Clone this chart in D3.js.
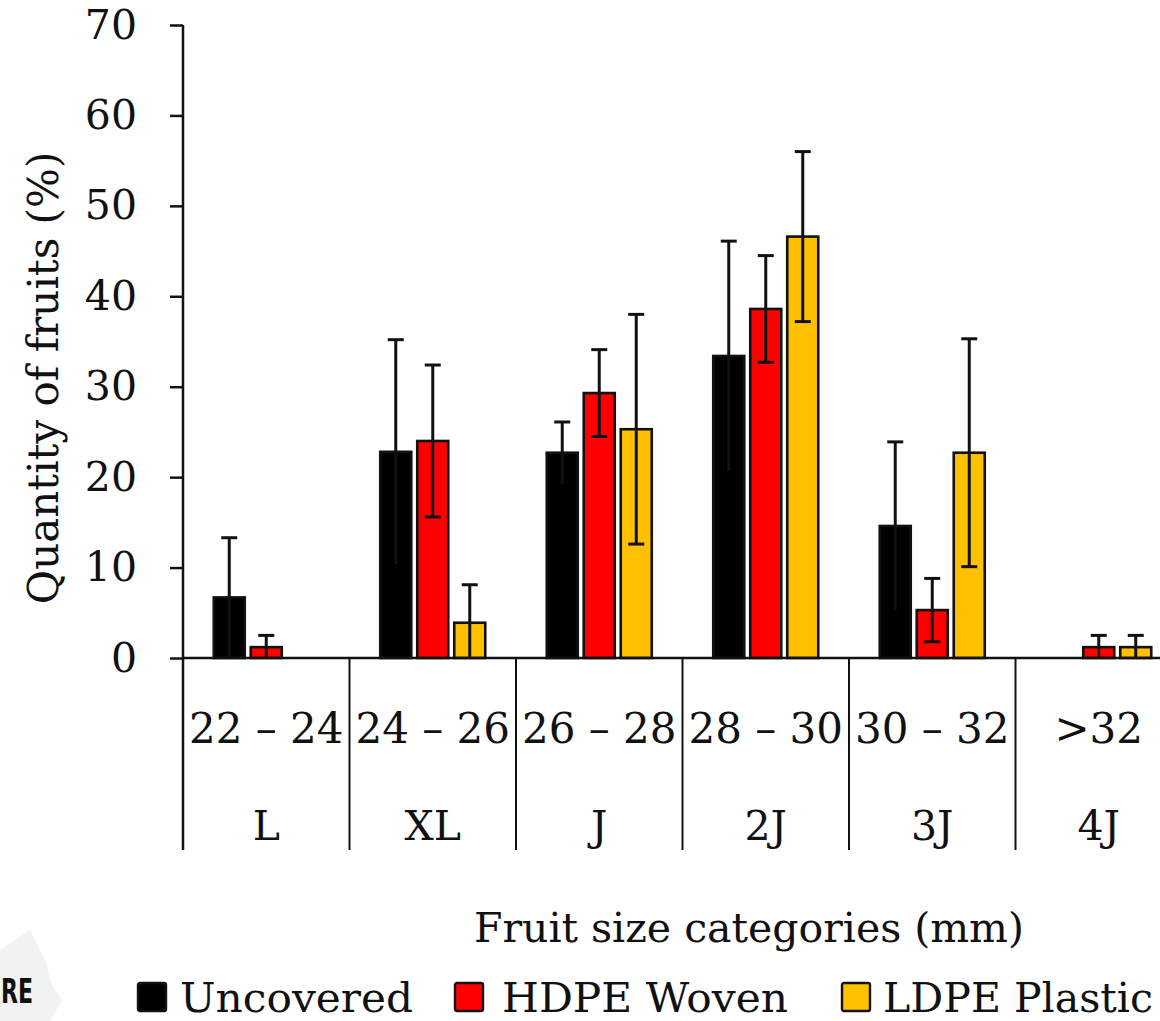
<!DOCTYPE html>
<html>
<head>
<meta charset="utf-8">
<script src="https://cdn.jsdelivr.net/npm/d3@7"></script>
<style>
  body { margin: 0; background: #fff; }
  text { font-family: "DejaVu Serif", "Liberation Serif", serif; fill: #111; }
</style>
</head>
<body>
<div class="canvas"></div>
<script>
// data
const categories = ["22 – 24", "24 – 26", "26 – 28", "28 – 30", "30 – 32", ">32"];
const sizeClasses = ["L", "XL", "J", "2J", "3J", "4J"];
const seriesNames = ["Uncovered", "HDPE Woven", "LDPE Plastic"];
const uncovered = [6.7, 22.8, 22.7, 33.4, 14.6, 0];
const uncoveredErr = [6.6, 12.4, 3.4, 12.7, 9.3, 0];
const hdpe = [1.2, 24.0, 29.3, 38.6, 5.3, 1.2];
const hdpeErr = [1.3, 8.4, 4.8, 5.9, 3.5, 1.3];
const ldpe = [0, 3.9, 25.3, 46.6, 22.7, 1.2];
const ldpeErr = [0, 4.2, 12.7, 9.4, 12.6, 1.3];
const yTicks = [0, 10, 20, 30, 40, 50, 60, 70];

const colours = ["#000000", "#ff0000", "#ffc000"];
const values = [uncovered, hdpe, ldpe];
const errors = [uncoveredErr, hdpeErr, ldpeErr];

const width = 1160, height = 1021;

const svg = d3.select('.canvas')
    .append('svg')
    .attr('width', width)
    .attr('height', height);

// scales
const x0 = d3.scaleBand()
    .domain(categories)
    .range([183, 1182]);

const x1 = d3.scaleBand()
    .domain(seriesNames)
    .range([0, x0.bandwidth()])
    .paddingInner(0.162)
    .paddingOuter(0.831);

const y = d3.scaleLinear()
    .domain([0, 70])
    .range([658, 25]);

const colour = d3.scaleOrdinal().domain(seriesNames).range(colours);

// one record per bar
const rows = [];
categories.forEach((c, i) => {
    seriesNames.forEach((s, j) => {
        rows.push({ cat: c, series: s, value: values[j][i], err: errors[j][i] });
    });
});

// y axis
const yAxis = svg.append('g')
    .attr('transform', 'translate(183,0)')
    .call(d3.axisLeft(y).tickValues(yTicks).tickSize(13).tickPadding(33));
yAxis.select('.domain').remove();
yAxis.selectAll('line').attr('stroke', '#111').attr('stroke-width', 2.5);
yAxis.selectAll('text')
    .style('font-family', '"DejaVu Serif", serif')
    .style('font-size', '41px')
    .attr('fill', '#111');

svg.append('line')
    .attr('x1', 183).attr('x2', 183)
    .attr('y1', y(70)).attr('y2', 850)
    .attr('stroke', '#111').attr('stroke-width', 2.5);

// bars
const bars = rows.filter(d => d.value > 0);

svg.append('g').selectAll('rect')
    .data(bars)
    .enter()
    .append('rect')
    .attr('x', d => x0(d.cat) + x1(d.series))
    .attr('y', d => y(d.value))
    .attr('width', x1.bandwidth())
    .attr('height', d => y(0) - y(d.value))
    .attr('fill', d => colour(d.series))
    .attr('stroke', '#111')
    .attr('stroke-width', 2.6);

// error bars
const eb = svg.append('g').selectAll('g')
    .data(bars)
    .enter()
    .append('g')
    .attr('transform', d => `translate(${x0(d.cat) + x1(d.series) + x1.bandwidth() / 2},0)`)
    .attr('stroke', '#111')
    .attr('stroke-width', 3);

eb.append('line')
    .attr('y1', d => y(d.value + d.err))
    .attr('y2', d => y(Math.max(0, d.value - d.err)));
eb.append('line')
    .attr('x1', -8).attr('x2', 8)
    .attr('y1', d => y(d.value + d.err))
    .attr('y2', d => y(d.value + d.err));
// lower caps are hidden inside the black bars
eb.filter(d => d.series !== 'Uncovered' && d.value - d.err > 0.3)
    .append('line')
    .attr('x1', -8).attr('x2', 8)
    .attr('y1', d => y(d.value - d.err))
    .attr('y2', d => y(d.value - d.err));

// x axis line
svg.append('line')
    .attr('x1', 183).attr('x2', width)
    .attr('y1', y(0)).attr('y2', y(0))
    .attr('stroke', '#111').attr('stroke-width', 2.5);

// category separators
svg.append('g').selectAll('line')
    .data(categories)
    .enter()
    .append('line')
    .attr('x1', d => x0(d) + x0.step())
    .attr('x2', d => x0(d) + x0.step())
    .attr('y1', y(0)).attr('y2', 850)
    .attr('stroke', '#111').attr('stroke-width', 2);

// two-level category labels
svg.append('g').selectAll('text')
    .data(categories)
    .enter()
    .append('text')
    .attr('x', d => x0(d) + x0.bandwidth() / 2)
    .attr('y', 743)
    .attr('text-anchor', 'middle')
    .style('font-size', '42px')
    .text(d => d);

svg.append('g').selectAll('text')
    .data(sizeClasses)
    .enter()
    .append('text')
    .attr('x', (d, i) => x0(categories[i]) + x0.bandwidth() / 2)
    .attr('y', 840)
    .attr('text-anchor', 'middle')
    .style('font-size', '41px')
    .text(d => d);

// axis titles
svg.append('text')
    .attr('transform', 'translate(58,378) rotate(-90)')
    .attr('text-anchor', 'middle')
    .style('font-size', '42px')
    .text('Quantity of fruits (%)');

svg.append('text')
    .attr('x', 749)
    .attr('y', 942)
    .attr('text-anchor', 'middle')
    .style('font-size', '41px')
    .text('Fruit size categories (mm)');

// watermark fragment bottom-left
svg.append('path')
    .attr('d', 'M0,950 L30,930 L45,960 L52,985 L62,1000 L50,1021 L0,1021 Z')
    .attr('fill', '#f1f3f1');
svg.append('text')
    .attr('x', 1).attr('y', 1003)
    .attr('textLength', 32)
    .attr('lengthAdjust', 'spacingAndGlyphs')
    .style('font-family', '"DejaVu Sans", sans-serif')
    .style('font-weight', 'bold')
    .style('font-size', '33px')
    .attr('fill', '#5dba3b')
    .text('RE');

// legend
const legendX = [138, 455, 842];
const legendTextW = [233, 286, 270];
const legend = svg.append('g').selectAll('g')
    .data(seriesNames)
    .enter()
    .append('g')
    .attr('transform', (d, i) => `translate(${legendX[i]},983)`);

legend.append('rect')
    .attr('width', 28).attr('height', 28)
    .attr('rx', 2)
    .attr('fill', d => colour(d))
    .attr('stroke', '#111')
    .attr('stroke-width', 2.4);

legend.append('text')
    .attr('x', (d, i) => i === 0 ? 42 : (i === 1 ? 47 : 41))
    .attr('y', 29)
    .attr('textLength', (d, i) => legendTextW[i])
    .attr('lengthAdjust', 'spacingAndGlyphs')
    .style('font-size', '41px')
    .text(d => d);
</script>
</body>
</html>
